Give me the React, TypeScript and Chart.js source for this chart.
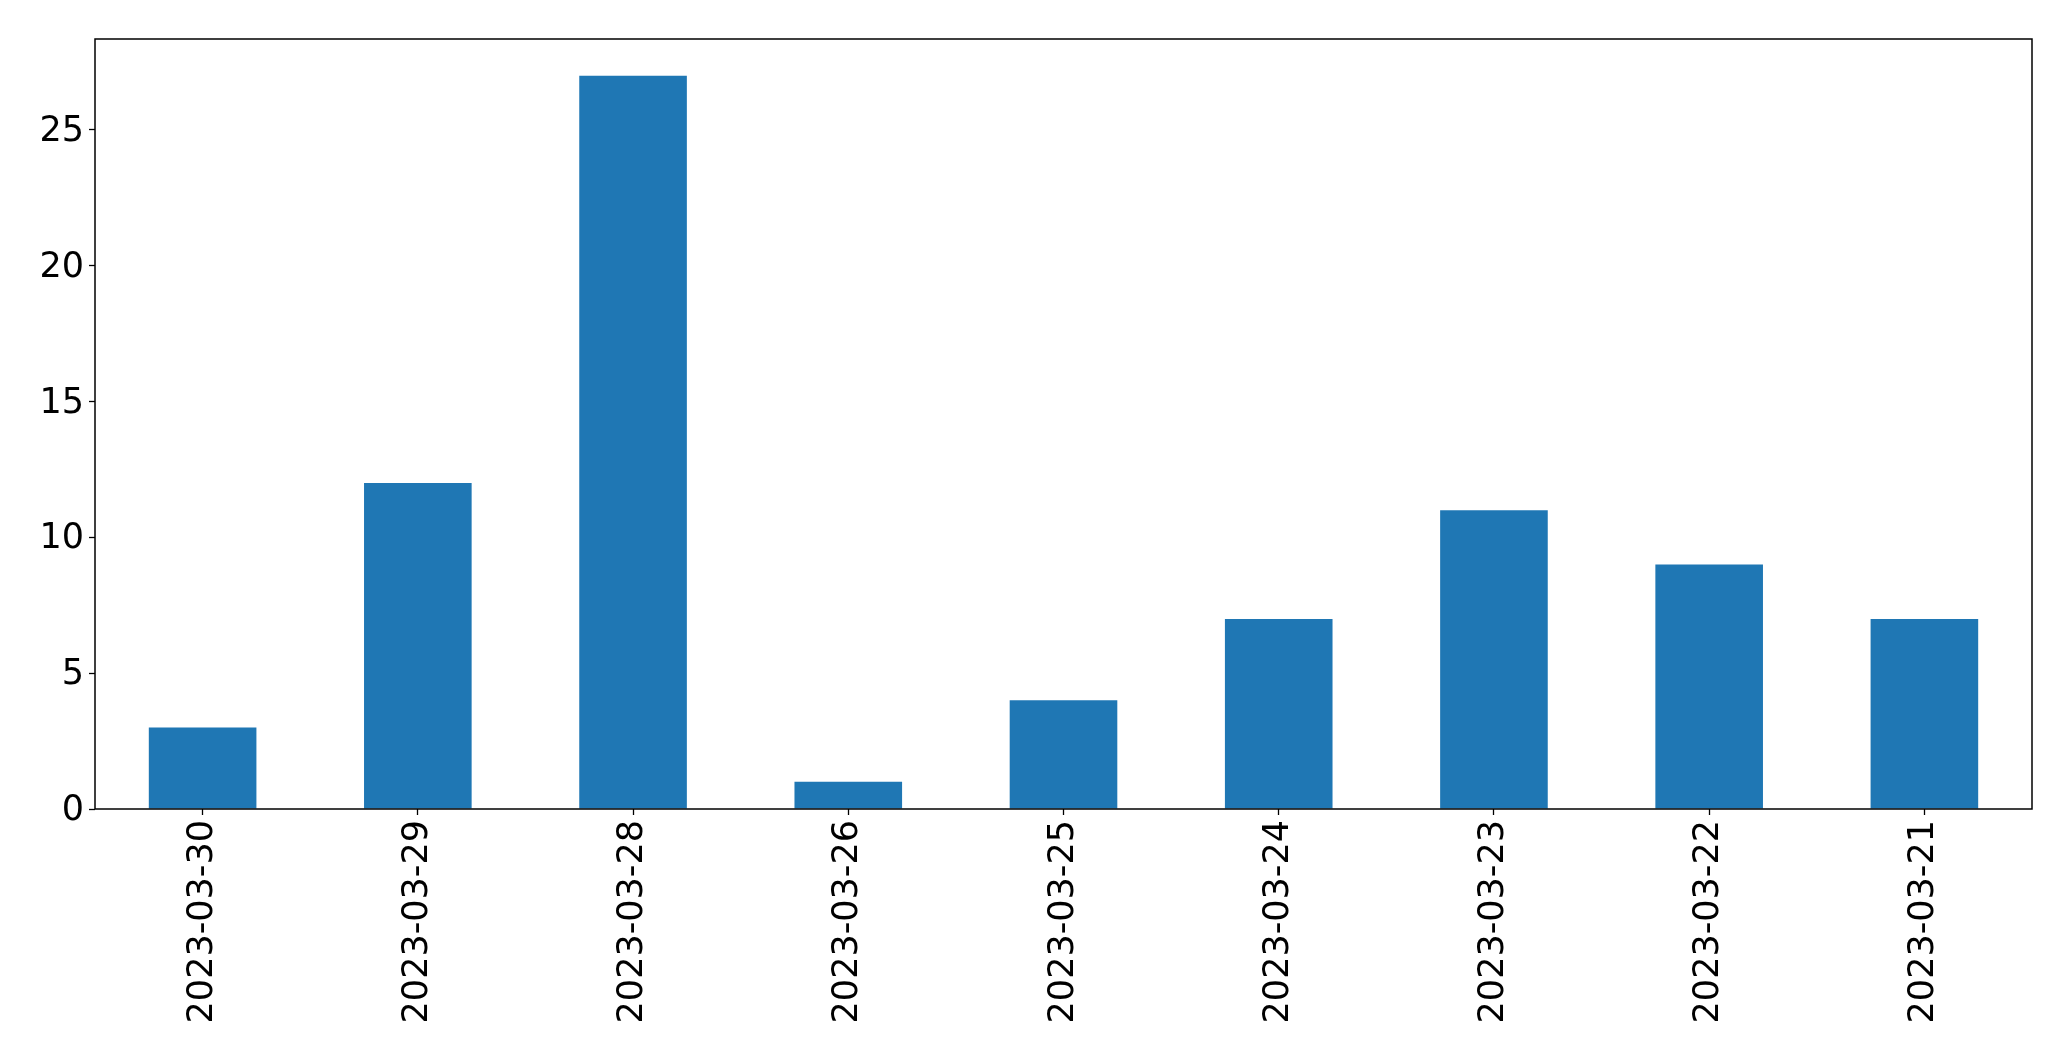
import React, { useEffect, useRef } from "react";
import { Chart, registerables } from "chart.js";

Chart.register(...registerables);

const categories: string[] = [
  "2023-03-30",
  "2023-03-29",
  "2023-03-28",
  "2023-03-26",
  "2023-03-25",
  "2023-03-24",
  "2023-03-23",
  "2023-03-22",
  "2023-03-21",
];
const counts: number[] = [3, 12, 27, 1, 4, 7, 11, 9, 7];
const yTicks: number[] = [0, 5, 10, 15, 20, 25];
const yMax = 28.35;

const FONT = "'DejaVu Sans'";

export default function App() {
  const ref = useRef<HTMLCanvasElement | null>(null);

  useEffect(() => {
    document.body.style.margin = "0";
    const canvas = ref.current;
    if (!canvas) return;

    const boxPlugin = {
      id: "boxFrame",
      afterDatasetsDraw(chart: any) {
        const { ctx, chartArea } = chart;
        ctx.save();
        ctx.strokeStyle = "#000";
        ctx.lineWidth = 1.5;
        ctx.strokeRect(
          chartArea.left,
          chartArea.top,
          chartArea.right - chartArea.left,
          chartArea.bottom - chartArea.top
        );
        ctx.restore();
      },
    };

    const chart = new Chart(canvas, {
      type: "bar",
      data: {
        labels: categories,
        datasets: [
          {
            data: counts,
            backgroundColor: "#1f77b4",
            borderWidth: 0,
            barPercentage: 0.5,
            categoryPercentage: 1,
          },
        ],
      },
      options: {
        animation: false,
        responsive: false,
        devicePixelRatio: 1,
        layout: { padding: { top: 39, right: 39, left: 0, bottom: 0 } },
        plugins: {
          legend: { display: false },
          tooltip: { enabled: false },
        },
        scales: {
          x: {
            type: "category",
            offset: true,
            border: { display: false },
            grid: {
              offset: false,
              drawOnChartArea: false,
              drawTicks: true,
              tickLength: 6,
              tickWidth: 1.3,
              tickColor: "#000",
            },
            ticks: {
              minRotation: 90,
              maxRotation: 90,
              autoSkip: false,
              padding: 5,
              color: "#000",
              font: { family: FONT, size: 35 },
            },
            afterFit: (scale: any) => {
              scale.height = 252;
            },
          },
          y: {
            min: 0,
            max: yMax,
            border: { display: false },
            grid: {
              drawOnChartArea: false,
              drawTicks: true,
              tickLength: 6,
              tickWidth: 1.3,
              tickColor: "#000",
            },
            ticks: {
              padding: 5,
              labelOffset: 2,
              color: "#000",
              font: { family: FONT, size: 35 },
            },
            afterBuildTicks: (scale: any) => {
              scale.ticks = yTicks.map((v) => ({ value: v }));
            },
            afterFit: (scale: any) => {
              scale.width = 95;
            },
          },
        },
      },
      plugins: [boxPlugin],
    });

    return () => chart.destroy();
  }, []);

  return (
    <canvas
      ref={ref}
      width={2071}
      height={1061}
      style={{ display: "block", width: 2071, height: 1061 }}
    />
  );
}
